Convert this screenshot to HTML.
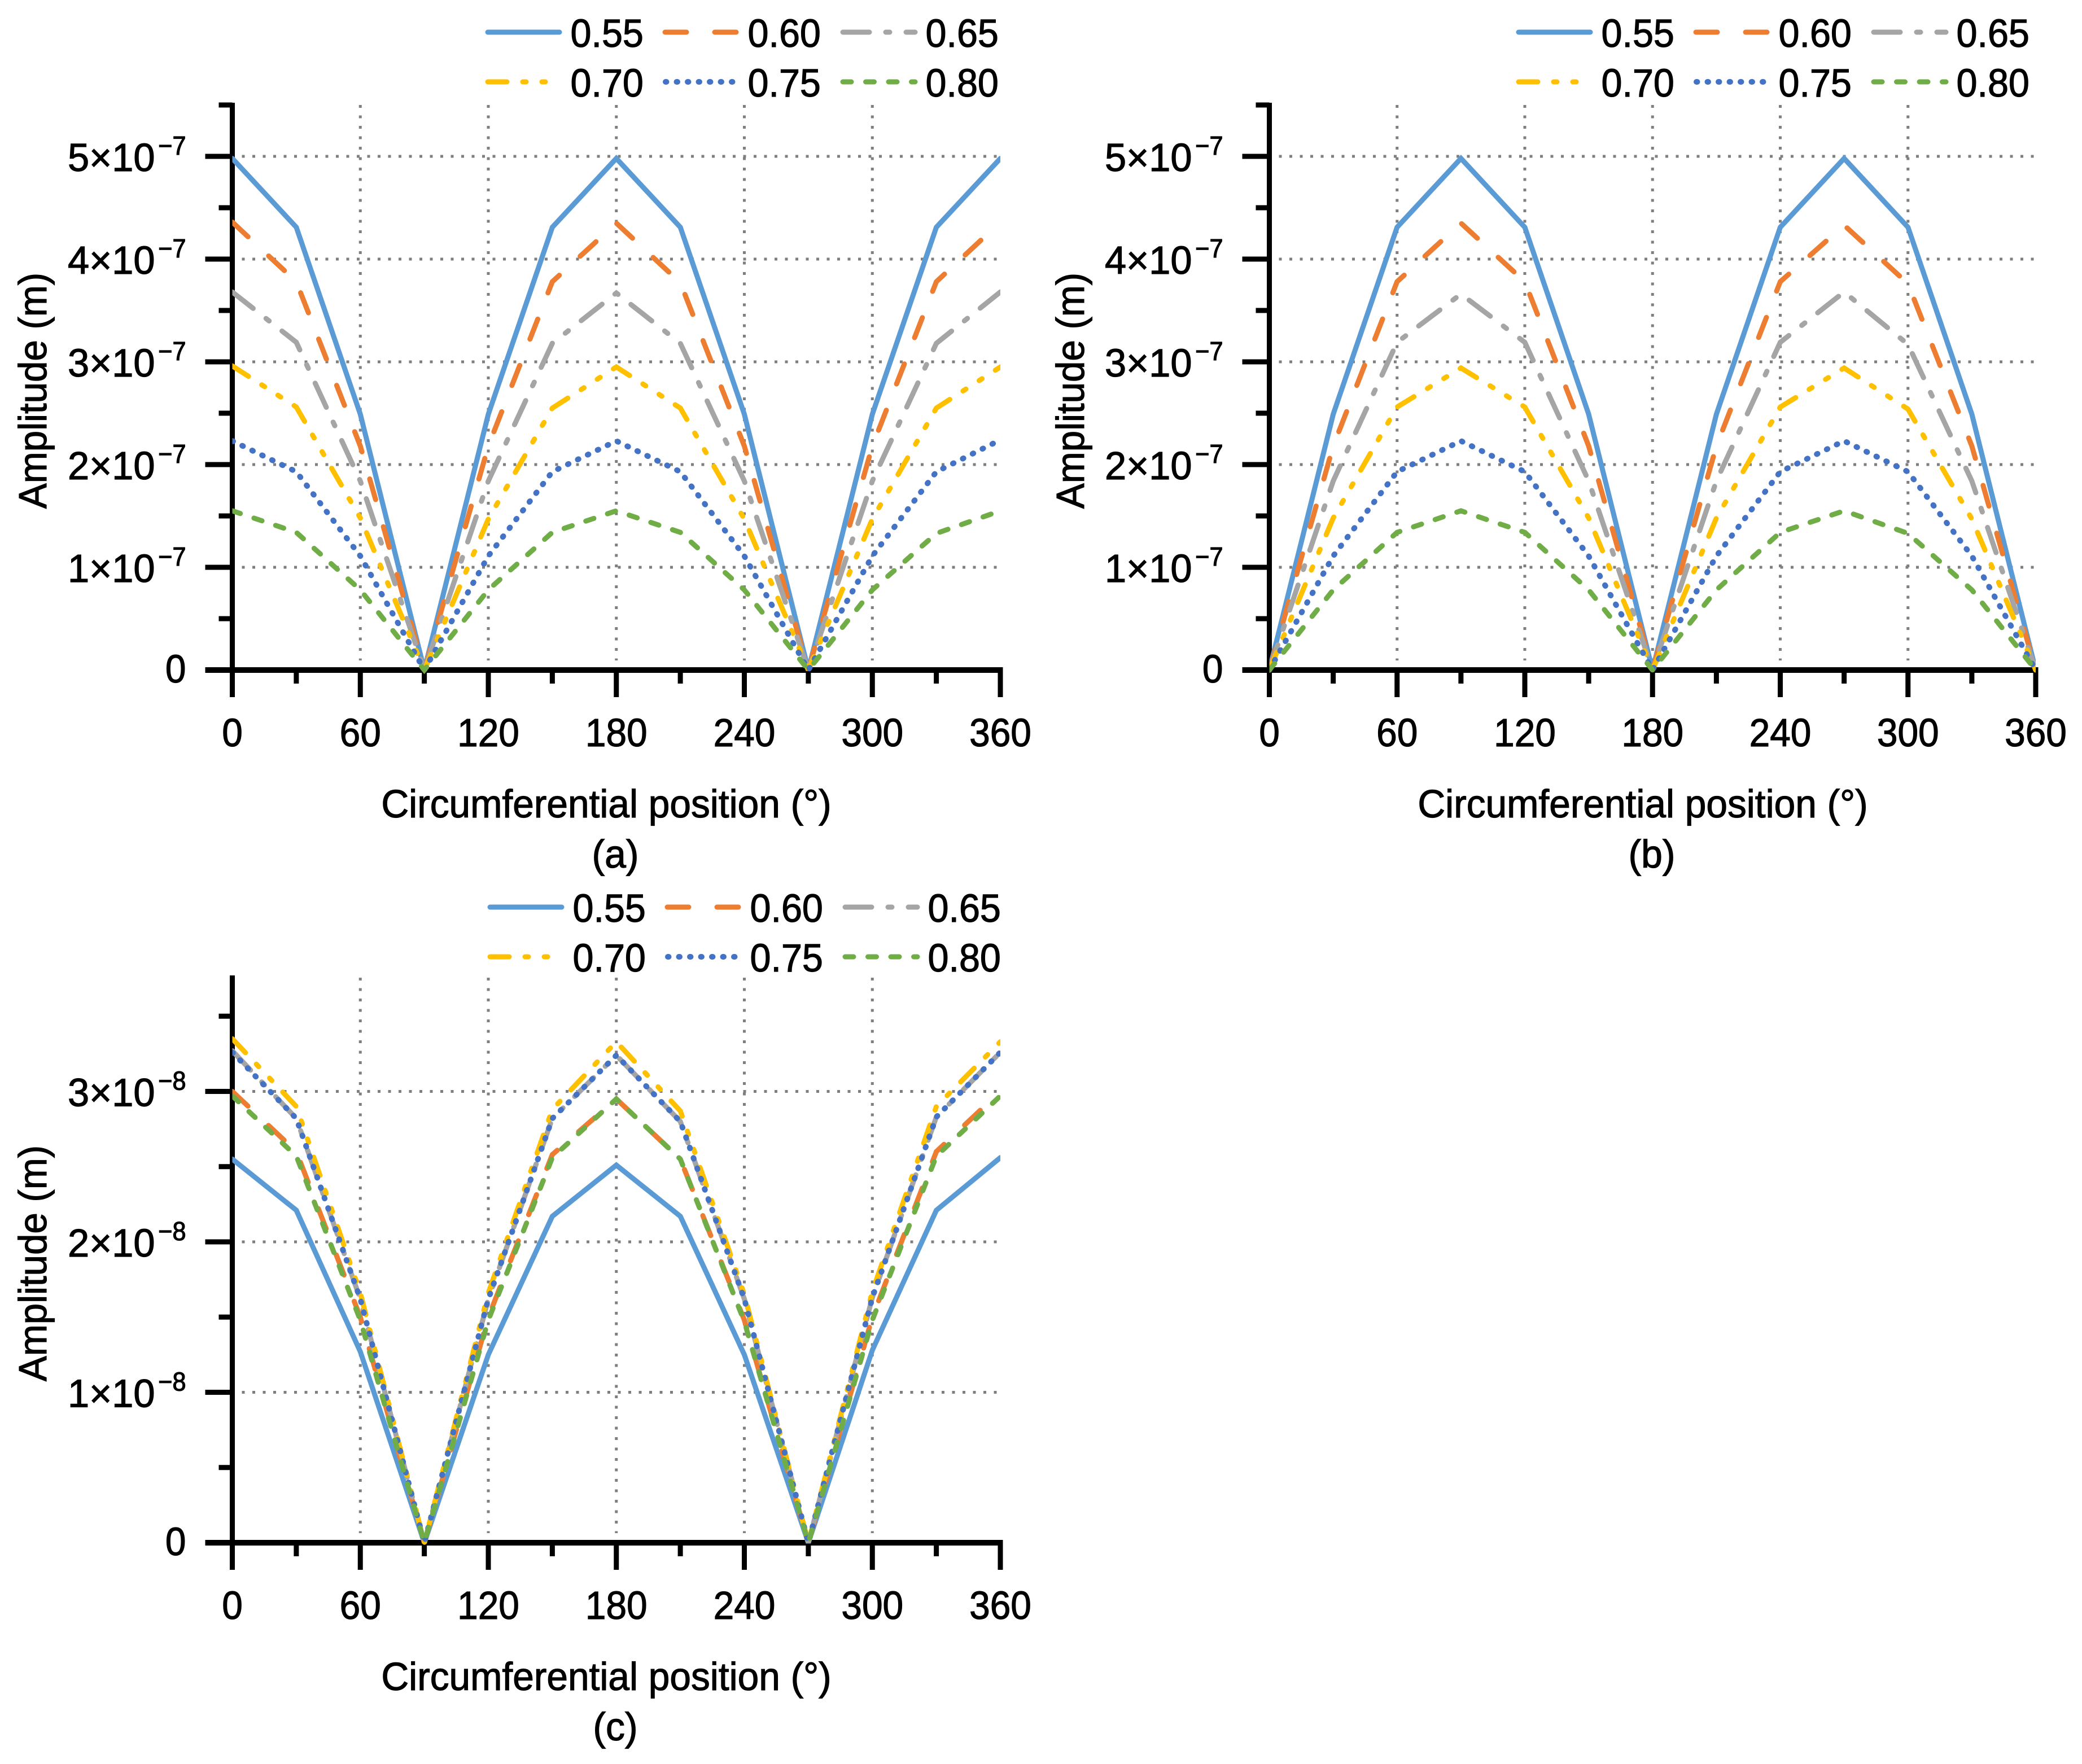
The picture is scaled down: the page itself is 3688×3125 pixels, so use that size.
<!DOCTYPE html>
<html lang="en">
<head>
<meta charset="utf-8">
<title>Amplitude versus circumferential position</title>
<style>
html,body{margin:0;padding:0;background:#fff;}
svg{display:block;}
text{font-family:"Liberation Sans",Arial,sans-serif;fill:#000;stroke:#000;stroke-width:1.2px;}
.lg{font-size:70px;}
.l1{fill:none;stroke:#5B9BD5;stroke-width:9;stroke-linecap:round;}
.l2{fill:none;stroke:#ED7D31;stroke-width:9;stroke-linecap:round;stroke-dasharray:38 50;}
.l3{fill:none;stroke:#A5A5A5;stroke-width:9;stroke-linecap:round;stroke-dasharray:47 29 7 29;}
.l4{fill:none;stroke:#FFC000;stroke-width:9;stroke-linecap:round;stroke-dasharray:34 28 6 28 6 28;}
.l5{fill:none;stroke:#4472C4;stroke-width:10;stroke-linecap:round;stroke-dasharray:1.5 18;}
.l6{fill:none;stroke:#70AD47;stroke-width:9;stroke-linecap:round;stroke-dasharray:15 25.5;}
</style>
</head>
<body>
<svg id="figure" xmlns="http://www.w3.org/2000/svg" width="3688" height="3125" viewBox="0 0 3688 3125">
<rect x="0" y="0" width="3688" height="3125" fill="#fff"/>

<g id="panel-a"></g>
<g id="panel-b"></g>
<g id="panel-c"></g>

<!-- axis titles and captions -->
<text font-size="70" text-anchor="middle" transform="translate(82,692) rotate(-90) scale(.96,1)">Amplitude (m)</text>
<text font-size="70" text-anchor="middle" transform="translate(1074,1448) scale(.966,1)">Circumferential position (°)</text>
<text font-size="70" text-anchor="middle" transform="translate(1090,1537) scale(.97,1)">(a)</text>

<text font-size="70" text-anchor="middle" transform="translate(1920,692) rotate(-90) scale(.96,1)">Amplitude (m)</text>
<text font-size="70" text-anchor="middle" transform="translate(2910,1448) scale(.966,1)">Circumferential position (°)</text>
<text font-size="70" text-anchor="middle" transform="translate(2926,1537) scale(.97,1)">(b)</text>

<text font-size="70" text-anchor="middle" transform="translate(82,2238) rotate(-90) scale(.96,1)">Amplitude (m)</text>
<text font-size="70" text-anchor="middle" transform="translate(1074,2994) scale(.966,1)">Circumferential position (°)</text>
<text font-size="70" text-anchor="middle" transform="translate(1090,3083) scale(.97,1)">(c)</text>

<!-- legend panel a -->
<g>
  <g><path class="l1" d="M864 57H991"/><text class="lg" transform="translate(1010.5,83) scale(.95,1)">0.55</text></g>
  <g><path class="l2" d="M1178 57H1306"/><text class="lg" transform="translate(1324.5,83) scale(.95,1)">0.60</text></g>
  <g><path class="l3" d="M1493 57H1621"/><text class="lg" transform="translate(1639.5,83) scale(.95,1)">0.65</text></g>
  <g><path class="l4" d="M864 145H991"/><text class="lg" transform="translate(1010.5,171) scale(.95,1)">0.70</text></g>
  <g><path class="l5" d="M1179 145H1306"/><text class="lg" transform="translate(1324.5,171) scale(.95,1)">0.75</text></g>
  <g><path class="l6" d="M1493 145H1621"/><text class="lg" transform="translate(1639.5,171) scale(.95,1)">0.80</text></g>
</g>
<!-- legend panel b -->
<g transform="translate(1826,0)">
  <g><path class="l1" d="M864 57H991"/><text class="lg" transform="translate(1010.5,83) scale(.95,1)">0.55</text></g>
  <g><path class="l2" d="M1178 57H1306"/><text class="lg" transform="translate(1324.5,83) scale(.95,1)">0.60</text></g>
  <g><path class="l3" d="M1493 57H1621"/><text class="lg" transform="translate(1639.5,83) scale(.95,1)">0.65</text></g>
  <g><path class="l4" d="M864 145H991"/><text class="lg" transform="translate(1010.5,171) scale(.95,1)">0.70</text></g>
  <g><path class="l5" d="M1179 145H1306"/><text class="lg" transform="translate(1324.5,171) scale(.95,1)">0.75</text></g>
  <g><path class="l6" d="M1493 145H1621"/><text class="lg" transform="translate(1639.5,171) scale(.95,1)">0.80</text></g>
</g>
<!-- legend panel c -->
<g transform="translate(4,1550)">
  <g><path class="l1" d="M864 57H991"/><text class="lg" transform="translate(1010.5,83) scale(.95,1)">0.55</text></g>
  <g><path class="l2" d="M1178 57H1306"/><text class="lg" transform="translate(1324.5,83) scale(.95,1)">0.60</text></g>
  <g><path class="l3" d="M1493 57H1621"/><text class="lg" transform="translate(1639.5,83) scale(.95,1)">0.65</text></g>
  <g><path class="l4" d="M864 145H991"/><text class="lg" transform="translate(1010.5,171) scale(.95,1)">0.70</text></g>
  <g><path class="l5" d="M1179 145H1306"/><text class="lg" transform="translate(1324.5,171) scale(.95,1)">0.75</text></g>
  <g><path class="l6" d="M1493 145H1621"/><text class="lg" transform="translate(1639.5,171) scale(.95,1)">0.80</text></g>
</g>
</svg>

<script>
// ---- shared categories and ticks ----
const angles = [0, 30, 60, 90, 120, 150, 180, 210, 240, 270, 300, 330, 360];
const xMajorTicks = [0, 60, 120, 180, 240, 300, 360];
const xMinorTicks = [30, 90, 150, 210, 270, 330];
const xTickLabels = ['0', '60', '120', '180', '240', '300', '360'];
const xGridLines = [60, 120, 180, 240, 300];

const upperMajorTicks = [0, 1e-7, 2e-7, 3e-7, 4e-7, 5e-7];
const upperMinorTicks = [0.5e-7, 1.5e-7, 2.5e-7, 3.5e-7, 4.5e-7, 5.5e-7];
const upperTickMantissas = ['0', '1×10', '2×10', '3×10', '4×10', '5×10'];
const upperTickExponents = ['', '−7', '−7', '−7', '−7', '−7'];

const lowerMajorTicks = [0, 1e-8, 2e-8, 3e-8];
const lowerMinorTicks = [0.5e-8, 1.5e-8, 2.5e-8, 3.5e-8];
const lowerTickMantissas = ['0', '1×10', '2×10', '3×10'];
const lowerTickExponents = ['', '−8', '−8', '−8'];

// ---- panel (a) series ----
const a055 = [4.98e-7, 4.31e-7, 2.49e-7, 0, 2.49e-7, 4.31e-7, 4.98e-7, 4.31e-7, 2.49e-7, 0, 2.49e-7, 4.31e-7, 4.98e-7];
const a060 = [4.36e-7, 3.78e-7, 2.18e-7, 0, 2.18e-7, 3.78e-7, 4.35e-7, 3.77e-7, 2.18e-7, 0, 2.18e-7, 3.78e-7, 4.36e-7];
const a065 = [3.68e-7, 3.19e-7, 1.84e-7, 0, 1.84e-7, 3.18e-7, 3.67e-7, 3.18e-7, 1.84e-7, 0, 1.84e-7, 3.18e-7, 3.68e-7];
const a070 = [2.96e-7, 2.56e-7, 1.48e-7, 0, 1.47e-7, 2.55e-7, 2.95e-7, 2.55e-7, 1.47e-7, 0, 1.47e-7, 2.55e-7, 2.95e-7];
const a075 = [2.23e-7, 1.93e-7, 1.11e-7, 0, 1.11e-7, 1.93e-7, 2.23e-7, 1.93e-7, 1.11e-7, 0, 1.11e-7, 1.93e-7, 2.24e-7];
const a080 = [1.55e-7, 1.34e-7, 0.78e-7, 0, 0.78e-7, 1.34e-7, 1.55e-7, 1.34e-7, 0.78e-7, 0, 0.78e-7, 1.33e-7, 1.55e-7];

// ---- panel (b) series ----
const b055 = [0, 2.49e-7, 4.31e-7, 4.98e-7, 4.31e-7, 2.49e-7, 0, 2.49e-7, 4.31e-7, 4.98e-7, 4.31e-7, 2.49e-7, 0];
const b060 = [0, 2.18e-7, 3.78e-7, 4.35e-7, 3.78e-7, 2.18e-7, 0, 2.18e-7, 3.78e-7, 4.33e-7, 3.76e-7, 2.18e-7, 0];
const b065 = [0, 1.84e-7, 3.19e-7, 3.66e-7, 3.19e-7, 1.84e-7, 0, 1.84e-7, 3.19e-7, 3.68e-7, 3.17e-7, 1.84e-7, 0];
const b070 = [0, 1.48e-7, 2.56e-7, 2.94e-7, 2.56e-7, 1.48e-7, 0, 1.48e-7, 2.56e-7, 2.94e-7, 2.54e-7, 1.47e-7, 0];
const b075 = [0, 1.11e-7, 1.93e-7, 2.23e-7, 1.93e-7, 1.11e-7, 0, 1.11e-7, 1.93e-7, 2.23e-7, 1.93e-7, 1.11e-7, 0];
const b080 = [0, 0.78e-7, 1.34e-7, 1.55e-7, 1.34e-7, 0.78e-7, 0, 0.78e-7, 1.34e-7, 1.55e-7, 1.33e-7, 0.78e-7, 0];

// ---- panel (c) series ----
const c055 = [2.55e-8, 2.21e-8, 1.27e-8, 0, 1.25e-8, 2.17e-8, 2.51e-8, 2.17e-8, 1.25e-8, 0, 1.28e-8, 2.21e-8, 2.56e-8];
const c060 = [3.00e-8, 2.60e-8, 1.50e-8, 0, 1.50e-8, 2.58e-8, 2.95e-8, 2.55e-8, 1.48e-8, 0, 1.50e-8, 2.60e-8, 3.00e-8];
const c065 = [3.27e-8, 2.82e-8, 1.62e-8, 0, 1.62e-8, 2.82e-8, 3.24e-8, 2.80e-8, 1.62e-8, 0, 1.63e-8, 2.83e-8, 3.26e-8];
const c070 = [3.35e-8, 2.90e-8, 1.66e-8, 0, 1.66e-8, 2.88e-8, 3.33e-8, 2.87e-8, 1.65e-8, 0, 1.67e-8, 2.90e-8, 3.33e-8];
const c075 = [3.26e-8, 2.82e-8, 1.62e-8, 0, 1.62e-8, 2.82e-8, 3.24e-8, 2.80e-8, 1.62e-8, 0, 1.63e-8, 2.83e-8, 3.26e-8];
const c080 = [2.97e-8, 2.57e-8, 1.48e-8, 0, 1.48e-8, 2.56e-8, 2.95e-8, 2.55e-8, 1.47e-8, 0, 1.48e-8, 2.57e-8, 2.97e-8];

// ---- drawing ----
const SVG_NS = 'http://www.w3.org/2000/svg';
const seriesClasses = ['l1', 'l2', 'l3', 'l4', 'l5', 'l6'];
const seriesKeys = ['055', '060', '065', '070', '075', '080'];

function xAxis(panel, deg) {
  return panel.left + (deg / 360) * (panel.right - panel.left);
}
function yAxis(panel, value) {
  return panel.bottom - (value / panel.yMax) * (panel.bottom - panel.yMaxPixel);
}
function make(parent, tag) {
  const el = document.createElementNS(SVG_NS, tag);
  parent.appendChild(el);
  return el;
}
function blackRect(el, x, y, w, h) {
  el.setAttribute('x', x);
  el.setAttribute('y', y);
  el.setAttribute('width', w);
  el.setAttribute('height', h);
  el.setAttribute('fill', '#000');
}

function drawPanel(panel) {
  const root = document.getElementById(panel.id);

  // clip so that series stop at the x-axis limits
  const clip = make(root, 'clipPath');
  clip.setAttribute('id', panel.id + '-clip');
  const clipBox = make(clip, 'rect');
  clipBox.setAttribute('x', panel.left);
  clipBox.setAttribute('y', panel.axisTop - 20);
  clipBox.setAttribute('width', panel.right - panel.left);
  clipBox.setAttribute('height', panel.bottom - panel.axisTop + 40);

  // grid
  panel.yMajor.forEach(function (v) {
    if (v === 0) return;
    const g = make(root, 'line');
    
    
    g.setAttribute('x1', panel.left + 17);
    g.setAttribute('x2', panel.right);
    g.setAttribute('y1', yAxis(panel, v));
    g.setAttribute('y2', yAxis(panel, v));
    g.setAttribute('stroke', '#7f7f7f');
    g.setAttribute('stroke-width', '5');
    g.setAttribute('stroke-dasharray', '5 13.5');
  });
  xGridLines.forEach(function (d) {
    const g = make(root, 'line');
    
    
    g.setAttribute('x1', xAxis(panel, d));
    g.setAttribute('x2', xAxis(panel, d));
    g.setAttribute('y1', panel.axisTop + 4);
    g.setAttribute('y2', panel.bottom - 17);
    g.setAttribute('stroke', '#7f7f7f');
    g.setAttribute('stroke-width', '5');
    g.setAttribute('stroke-dasharray', '5 13.5');
  });

  // y axis line and x axis line
  const yLine = make(root, 'rect');
  
  
  blackRect(yLine, panel.left - 4.5, panel.axisTop, 9, panel.bottom + 48 - panel.axisTop);

  const xLine = make(root, 'rect');
  
  
  blackRect(xLine, panel.left - 48, panel.bottom - 5, panel.right - panel.left + 52.5, 10);

  // y ticks
  panel.yMajor.forEach(function (v, i) {
    const y = yAxis(panel, v);
    const t = make(root, 'rect');
    
    
    blackRect(t, panel.left - 48, y - 4.5, 48, 9);

    const lab = make(root, 'text');
    
    
    lab.setAttribute('font-size', '70');
    lab.setAttribute('text-anchor', 'end');
    lab.textContent = panel.yLabels[i];
    if (panel.yExponents[i]) {
      lab.setAttribute('transform', 'translate(' + (panel.left - 137) + ',' + (y + 26) + ') scale(.98,1)');
      const sup = make(root, 'text');
      
      
      sup.setAttribute('font-size', '46');
      sup.setAttribute('text-anchor', 'end');
      sup.setAttribute('transform', 'translate(' + (panel.left - 82) + ',' + (y - 3) + ') scale(.94,1)');
      sup.textContent = panel.yExponents[i];
    } else {
      lab.setAttribute('transform', 'translate(' + (panel.left - 82) + ',' + (y + 22) + ') scale(.94,1)');
    }
  });
  panel.yMinor.forEach(function (v) {
    const t = make(root, 'rect');
    
    
    blackRect(t, panel.left - 24, yAxis(panel, v) - 4.5, 24, 9);
  });

  // x ticks
  xMajorTicks.forEach(function (d, i) {
    const x = xAxis(panel, d);
    const t = make(root, 'rect');
    
    
    blackRect(t, x - 4.5, panel.bottom, 9, 48);

    const lab = make(root, 'text');
    
    
    lab.setAttribute('font-size', '70');
    lab.setAttribute('text-anchor', 'middle');
    lab.setAttribute('transform', 'translate(' + x + ',' + (panel.bottom + 135) + ') scale(.94,1)');
    lab.textContent = xTickLabels[i];
  });
  xMinorTicks.forEach(function (d) {
    const t = make(root, 'rect');
    
    
    blackRect(t, xAxis(panel, d) - 4.5, panel.bottom, 9, 24);
  });

  // series
  const clipped = make(root, 'g');
  
  
  clipped.setAttribute('clip-path', 'url(#' + panel.id + '-clip)');
  panel.series.forEach(function (values, s) {
    const line = make(clipped, 'path');
    
    
    line.setAttribute('class', seriesClasses[s]);
    line.setAttribute('stroke-linejoin', 'miter');
    line.setAttribute('stroke-miterlimit', '2.5');
    line.setAttribute('d', values.map(function (v, i) {
      return (i ? 'L' : 'M') + xAxis(panel, angles[i]).toFixed(2) + ' ' + yAxis(panel, v).toFixed(2);
    }).join(' '));
  });
}

drawPanel({
  id: 'panel-a', left: 411.5, right: 1772, bottom: 1187, axisTop: 182,
  yMax: 5.5e-7, yMaxPixel: 186,
  yMajor: upperMajorTicks, yMinor: upperMinorTicks,
  yLabels: upperTickMantissas, yExponents: upperTickExponents,
  series: [a055, a060, a065, a070, a075, a080]
});
drawPanel({
  id: 'panel-b', left: 2248.5, right: 3606, bottom: 1187, axisTop: 182,
  yMax: 5.5e-7, yMaxPixel: 186,
  yMajor: upperMajorTicks, yMinor: upperMinorTicks,
  yLabels: upperTickMantissas, yExponents: upperTickExponents,
  series: [b055, b060, b065, b070, b075, b080]
});
drawPanel({
  id: 'panel-c', left: 411.5, right: 1772, bottom: 2733, axisTop: 1728,
  yMax: 3.75e-8, yMaxPixel: 1733.6,
  yMajor: lowerMajorTicks, yMinor: lowerMinorTicks,
  yLabels: lowerTickMantissas, yExponents: lowerTickExponents,
  series: [c055, c060, c065, c070, c075, c080]
});
</script>
</body>
</html>
